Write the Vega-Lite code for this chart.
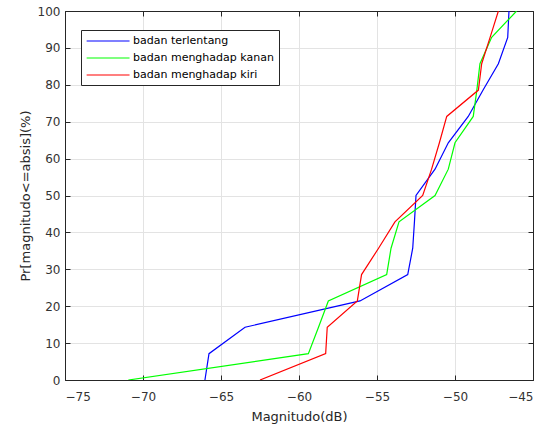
{
  "$schema": "https://vega.github.io/schema/vega-lite/v6.json",
  "width": 468,
  "height": 369,
  "autosize": "none",
  "padding": {"left": 65, "top": 11, "right": 15, "bottom": 50},
  "background": "white",
  "config": {
    "font": "DejaVu Sans",
    "view": {"stroke": "#262626", "strokeWidth": 1},
    "axis": {
      "labelFont": "DejaVu Sans",
      "labelFontSize": 12,
      "labelColor": "#333333",
      "titleFont": "DejaVu Sans",
      "titleFontSize": 13,
      "titleFontWeight": "normal",
      "titleColor": "#262626",
      "domainColor": "#262626",
      "tickColor": "#262626",
      "gridColor": "#e3e3e3",
      "gridOpacity": 1
    }
  },
  "data": {
    "values": [
      {"s": "badan terlentang", "i": 0, "x": -66.03, "y": 0},
      {"s": "badan terlentang", "i": 1, "x": -65.77, "y": 7.14},
      {"s": "badan terlentang", "i": 2, "x": -63.46, "y": 14.29},
      {"s": "badan terlentang", "i": 3, "x": -56.09, "y": 21.43},
      {"s": "badan terlentang", "i": 4, "x": -53.03, "y": 28.57},
      {"s": "badan terlentang", "i": 5, "x": -52.71, "y": 35.71},
      {"s": "badan terlentang", "i": 6, "x": -52.6, "y": 42.86},
      {"s": "badan terlentang", "i": 7, "x": -52.5, "y": 50},
      {"s": "badan terlentang", "i": 8, "x": -51.28, "y": 57.14},
      {"s": "badan terlentang", "i": 9, "x": -50.43, "y": 64.29},
      {"s": "badan terlentang", "i": 10, "x": -49.15, "y": 71.43},
      {"s": "badan terlentang", "i": 11, "x": -48.2, "y": 78.57},
      {"s": "badan terlentang", "i": 12, "x": -47.22, "y": 85.71},
      {"s": "badan terlentang", "i": 13, "x": -46.62, "y": 92.86},
      {"s": "badan terlentang", "i": 14, "x": -46.54, "y": 100},
      {"s": "badan menghadap kanan", "i": 0, "x": -70.94, "y": 0},
      {"s": "badan menghadap kanan", "i": 1, "x": -59.4, "y": 7.14},
      {"s": "badan menghadap kanan", "i": 2, "x": -58.75, "y": 14.29},
      {"s": "badan menghadap kanan", "i": 3, "x": -58.12, "y": 21.43},
      {"s": "badan menghadap kanan", "i": 4, "x": -54.38, "y": 28.57},
      {"s": "badan menghadap kanan", "i": 5, "x": -54.1, "y": 35.71},
      {"s": "badan menghadap kanan", "i": 6, "x": -53.59, "y": 42.86},
      {"s": "badan menghadap kanan", "i": 7, "x": -51.28, "y": 50},
      {"s": "badan menghadap kanan", "i": 8, "x": -50.43, "y": 57.14},
      {"s": "badan menghadap kanan", "i": 9, "x": -50.0, "y": 64.29},
      {"s": "badan menghadap kanan", "i": 10, "x": -48.83, "y": 71.43},
      {"s": "badan menghadap kanan", "i": 11, "x": -48.6, "y": 78.57},
      {"s": "badan menghadap kanan", "i": 12, "x": -48.4, "y": 85.71},
      {"s": "badan menghadap kanan", "i": 13, "x": -47.65, "y": 92.86},
      {"s": "badan menghadap kanan", "i": 14, "x": -46.05, "y": 100},
      {"s": "badan menghadap kiri", "i": 0, "x": -62.5, "y": 0},
      {"s": "badan menghadap kiri", "i": 1, "x": -58.29, "y": 7.14},
      {"s": "badan menghadap kiri", "i": 2, "x": -58.19, "y": 14.29},
      {"s": "badan menghadap kiri", "i": 3, "x": -56.26, "y": 21.43},
      {"s": "badan menghadap kiri", "i": 4, "x": -55.99, "y": 28.57},
      {"s": "badan menghadap kiri", "i": 5, "x": -54.9, "y": 35.71},
      {"s": "badan menghadap kiri", "i": 6, "x": -53.85, "y": 42.86},
      {"s": "badan menghadap kiri", "i": 7, "x": -52.07, "y": 50},
      {"s": "badan menghadap kiri", "i": 8, "x": -51.5, "y": 57.14},
      {"s": "badan menghadap kiri", "i": 9, "x": -51.0, "y": 64.29},
      {"s": "badan menghadap kiri", "i": 10, "x": -50.53, "y": 71.43},
      {"s": "badan menghadap kiri", "i": 11, "x": -48.5, "y": 78.57},
      {"s": "badan menghadap kiri", "i": 12, "x": -48.29, "y": 85.71},
      {"s": "badan menghadap kiri", "i": 13, "x": -47.75, "y": 92.86},
      {"s": "badan menghadap kiri", "i": 14, "x": -47.22, "y": 100}
    ]
  },
  "layer": [
    {
      "mark": {"type": "line", "strokeWidth": 1.2, "clip": true},
      "encoding": {
        "x": {
          "field": "x", "type": "quantitative",
          "scale": {"domain": [-75, -45], "nice": false, "zero": false},
          "axis": {"title": "Magnitudo(dB)", "values": [-75, -70, -65, -60, -55, -50, -45], "grid": true, "tickSize": -5, "labelPadding": 16, "titlePadding": 8}
        },
        "y": {
          "field": "y", "type": "quantitative",
          "scale": {"domain": [0, 100], "nice": false},
          "axis": {"title": "Pr[magnitudo<=absis](%)", "values": [0, 10, 20, 30, 40, 50, 60, 70, 80, 90, 100], "grid": true, "tickSize": -5, "labelPadding": 10, "titlePadding": 5}
        },
        "color": {
          "field": "s", "type": "nominal",
          "scale": {
            "domain": ["badan terlentang", "badan menghadap kanan", "badan menghadap kiri"],
            "range": ["#0000ff", "#00ff00", "#ff0000"]
          },
          "legend": {
            "title": null,
            "orient": "none",
            "legendX": 16,
            "legendY": 19,
            "fillColor": "white",
            "strokeColor": "#262626",
            "padding": 5,
            "symbolType": "M-1,0H7",
            "symbolSize": 115,
            "symbolStrokeWidth": 1.2,
            "labelFont": "DejaVu Sans",
            "labelFontSize": 11,
            "labelColor": "#000000",
            "labelOffset": 35,
            "rowPadding": 6
          }
        },
        "order": {"field": "i", "type": "quantitative"}
      }
    },
    {
      "mark": {"type": "line", "strokeOpacity": 0},
      "encoding": {
        "x": {
          "field": "x", "type": "quantitative",
          "scale": {"domain": [-75, -45], "nice": false, "zero": false},
          "axis": {"title": null, "labels": false, "values": [-75, -70, -65, -60, -55, -50, -45], "grid": false, "tickSize": -5, "orient": "top"}
        },
        "y": {
          "field": "y", "type": "quantitative",
          "scale": {"domain": [0, 100], "nice": false},
          "axis": {"title": null, "labels": false, "values": [0, 10, 20, 30, 40, 50, 60, 70, 80, 90, 100], "grid": false, "tickSize": -5, "orient": "right"}
        },
        "detail": {"field": "s"},
        "order": {"field": "i", "type": "quantitative"}
      }
    }
  ],
  "resolve": {"axis": {"x": "independent", "y": "independent"}}
}
